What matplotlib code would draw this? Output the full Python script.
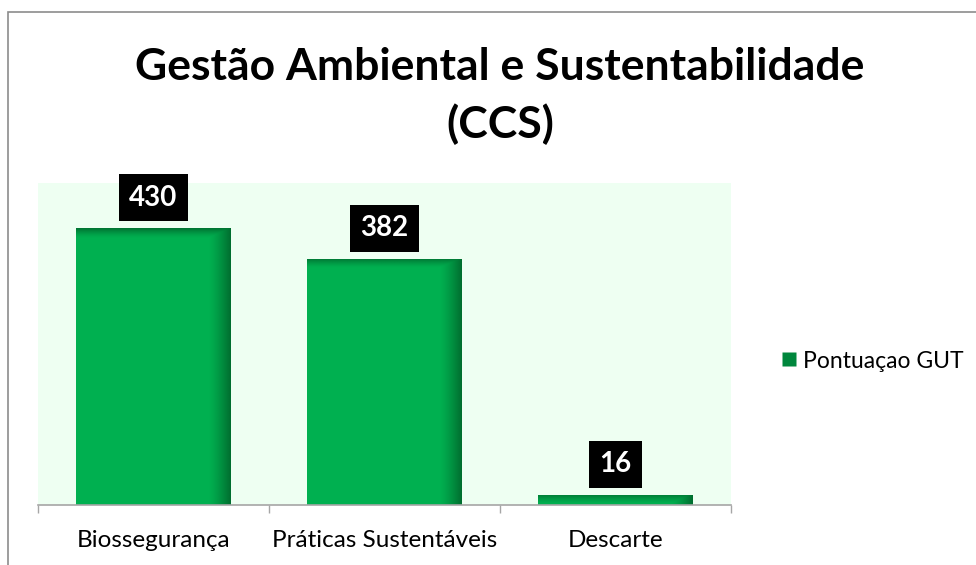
import numpy as np
import matplotlib
matplotlib.use("Agg")
import matplotlib.pyplot as plt
from matplotlib.patches import Rectangle
from matplotlib.lines import Line2D

# ---------------------------------------------------------------------------
# Data
# ---------------------------------------------------------------------------
categories = ["Biossegurança", "Práticas Sustentáveis", "Descarte"]
scores = [430, 382, 16]
series_name = "Pontuaçao GUT"
title = "Gestão Ambiental e Sustentabilidade\n(CCS)"

BAR_COLOR = "#00B050"
DARK_COLOR = "#00632A"
BG_COLOR = "#EEFFF2"

plt.rcParams["font.family"] = ["Lato", "DejaVu Sans"]

fig = plt.figure(figsize=(9.76, 5.65), dpi=100)
ax = fig.add_axes([38 / 976, 60 / 565, 693 / 976, 322 / 565])
ax.set_facecolor(BG_COLOR)

x = np.arange(len(categories))
bars = ax.bar(x, scores, width=0.667, color=BAR_COLOR, zorder=2,
              edgecolor="none")

# inner shadow on right and top edges, like the Office bevel
dark = np.array(matplotlib.colors.to_rgb(DARK_COLOR))
for b in bars:
    x0, w, h = b.get_x(), b.get_width(), b.get_height()
    nx, ny = 120, 200
    fx = np.linspace(0, 1, nx)
    fy = np.linspace(0, 1, ny)  # 0 = bottom, 1 = top
    right = np.clip((fx - 0.86) / 0.14, 0, 1) ** 1.3
    top_depth = min(14.0 / h, 0.9)
    top = np.clip((fy - (1 - top_depth)) / top_depth, 0, 1) ** 1.3
    a = np.maximum(right[None, :] * 0.85, top[:, None] * 0.75)
    img = np.zeros((ny, nx, 4))
    img[..., :3] = dark
    img[..., 3] = a
    im = ax.imshow(img, extent=(x0, x0 + w, 0, h), origin="lower",
                   aspect="auto", zorder=3, interpolation="bilinear")
    im.set_clip_path(b)

for b, v in zip(bars, scores):
    ax.annotate(str(v), (b.get_x() + b.get_width() / 2, b.get_height()),
                xytext=(0, 22), textcoords="offset points",
                ha="center", va="center", fontsize=20, fontweight="bold",
                color="white", zorder=5,
                bbox=dict(boxstyle="square,pad=0.38", fc="black", ec="none"))

ax.set_xlim(-0.5, len(categories) - 0.5)
ax.set_ylim(0, 500)
ax.set_xticks(x)
ax.set_xticklabels(categories, fontsize=17.5)
ax.tick_params(axis="x", which="major", length=0, pad=18)
ax.set_xticks(np.arange(len(categories) + 1) - 0.5, minor=True)
ax.tick_params(axis="x", which="minor", length=6, color="#A6A6A6", width=1)
ax.set_yticks([])
for s in ["top", "right", "left"]:
    ax.spines[s].set_visible(False)
ax.spines["bottom"].set_color("#A6A6A6")
ax.spines["bottom"].set_linewidth(1.2)
ax.spines["bottom"].set_zorder(4)

fig.text(500 / 976, 1 - 96 / 565, title, ha="center", va="center",
         fontsize=32, fontweight="bold", linespacing=1.45)

handle = Line2D([], [], marker="s", linestyle="none", markersize=10,
                markerfacecolor="#00873D", markeredgecolor="none")
fig.legend([handle], [series_name], loc="center left",
           bbox_to_anchor=(766 / 976, 1 - 361 / 565), frameon=False,
           fontsize=16.5, handletextpad=0.0, handlelength=1.2,
           borderaxespad=0)

# chart border
fig.patches.append(Rectangle((8 / 976, -0.1), 1.1, 1 - 12 / 565 + 0.1,
                             transform=fig.transFigure, fill=False,
                             edgecolor="#8C8C8C", linewidth=1.2))

fig.savefig("out.png", dpi=100)
